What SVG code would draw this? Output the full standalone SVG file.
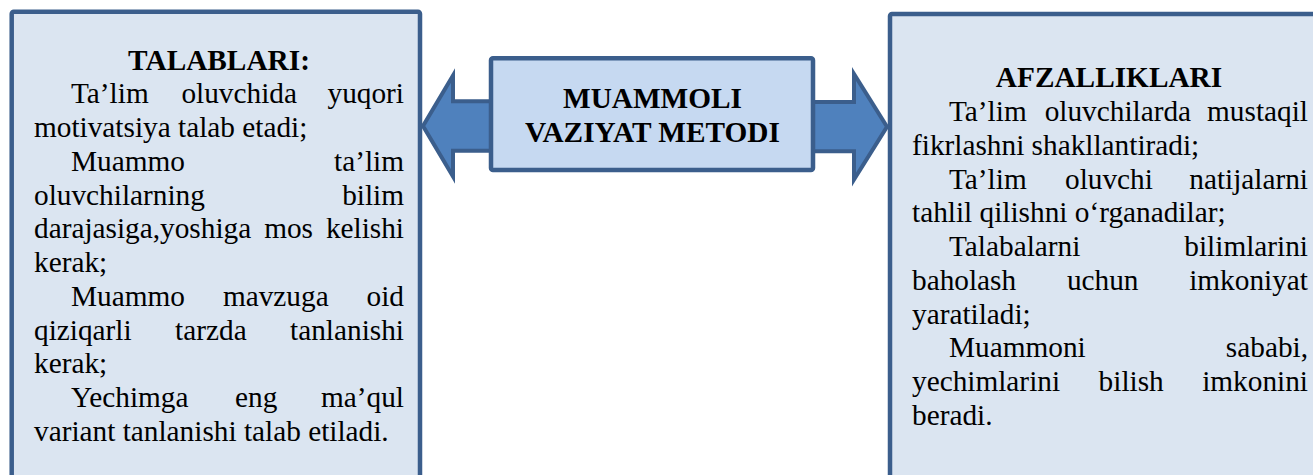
<svg xmlns="http://www.w3.org/2000/svg" width="1313" height="475" viewBox="0 0 1313 475">
<style>
.box{fill:#dbe5f1;stroke:#3b5e8c;stroke-width:4.5}
.cbox{fill:#c6d9f1;stroke:#3b5e8c;stroke-width:4.5}
.arrow{fill:#4f81bd;stroke:#3b5e8c;stroke-width:4;stroke-linejoin:miter}
text{font-family:"Liberation Serif","Times New Roman",serif;font-size:29.3px;fill:#000}
.h{font-weight:bold;text-anchor:middle}
.e{text-anchor:end}
</style>
<rect width="1313" height="475" fill="#ffffff"/>
<g id="node-talablari">
<rect class="box" x="11.7" y="11.7" width="408.3" height="490" rx="2"/>
<text class="h" x="219" y="69.5">TALABLARI:</text>
<text x="71" y="103.25">Ta’lim</text><text x="181.4" y="103.25">oluvchida</text><text class="e" x="404" y="103.25">yuqori</text>
<text x="34" y="137">motivatsiya talab etadi;</text>
<text x="71" y="170.75">Muammo</text><text class="e" x="404" y="170.75">ta’lim</text>
<text x="34" y="204.5">oluvchilarning</text><text class="e" x="404" y="204.5">bilim</text>
<text x="34" y="238.25">darajasiga,yoshiga</text><text x="264.2" y="238.25">mos</text><text class="e" x="404" y="238.25">kelishi</text>
<text x="34" y="272">kerak;</text>
<text x="71" y="305.75">Muammo</text><text x="222.9" y="305.75">mavzuga</text><text class="e" x="404" y="305.75">oid</text>
<text x="34" y="339.5">qiziqarli</text><text x="175.1" y="339.5">tarzda</text><text class="e" x="404" y="339.5">tanlanishi</text>
<text x="34" y="373.25">kerak;</text>
<text x="71" y="407">Yechimga</text><text x="235" y="407">eng</text><text class="e" x="404" y="407">ma’qul</text>
<text x="34" y="440.75">variant tanlanishi talab etiladi.</text>
</g>
<g id="node-afzalliklari">
<rect class="box" x="890" y="14" width="460" height="490" rx="2"/>
<text class="h" x="1109" y="87.3">AFZALLIKLARI</text>
<text x="949" y="121">Ta’lim</text><text x="1044.7" y="121">oluvchilarda</text><text class="e" x="1308" y="121">mustaqil</text>
<text x="912" y="154.8">fikrlashni shakllantiradi;</text>
<text x="949" y="188.5">Ta’lim</text><text x="1065" y="188.5">oluvchi</text><text class="e" x="1308" y="188.5">natijalarni</text>
<text x="912" y="222.3">tahlil qilishni o‘rganadilar;</text>
<text x="949" y="256">Talabalarni</text><text class="e" x="1308" y="256">bilimlarini</text>
<text x="912" y="289.8">baholash</text><text x="1066.9" y="289.8">uchun</text><text class="e" x="1308" y="289.8">imkoniyat</text>
<text x="912" y="323.5">yaratiladi;</text>
<text x="949" y="357.3">Muammoni</text><text class="e" x="1308" y="357.3">sababi,</text>
<text x="912" y="391">yechimlarini</text><text x="1098.6" y="391">bilish</text><text class="e" x="1308" y="391">imkonini</text>
<text x="912" y="424.8">beradi.</text>
</g>
<g id="connectors">
<polygon class="arrow" points="423,126 453,75.5 453,101.3 493,101.3 493,150.7 453,150.7 453,176.5"/>
<polygon class="arrow" points="811,102 854,102 854,74 887,126.7 854,179.5 854,151.3 811,151.3"/>
</g>
<g id="node-metod">
<rect class="cbox" x="491" y="58.3" width="322" height="111.7" rx="2"/>
<text class="h" x="652.5" y="108.3">MUAMMOLI</text>
<text class="h" x="652.5" y="142">VAZIYAT METODI</text>
</g>
</svg>
